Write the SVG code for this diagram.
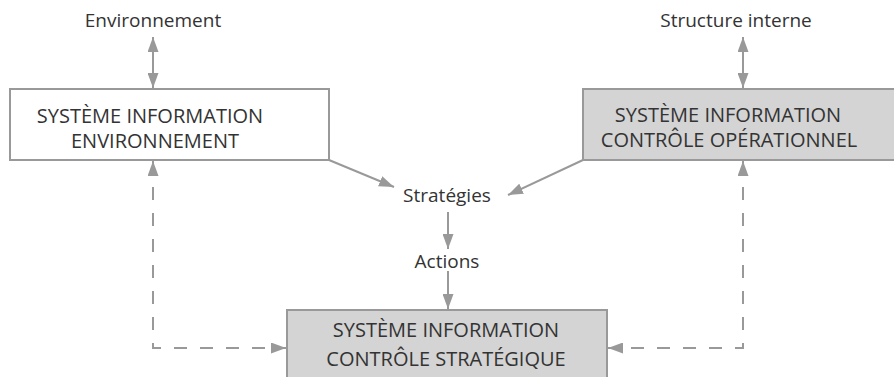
<svg xmlns="http://www.w3.org/2000/svg" width="894" height="377" viewBox="0 0 894 377">
<style>
text{font-family:"Open Sans","Liberation Sans",sans-serif;fill:#333;text-anchor:middle}
.lbl{font-size:19px}
.box{font-size:20px}
.w{fill:#fff;stroke:#999;stroke-width:2}
.g{fill:#d4d4d4;stroke:#999;stroke-width:2}
.c{fill:none;stroke:#999;stroke-width:2}
.d{stroke-dasharray:13 13}
</style>
<defs>
<marker id="ah" viewBox="0 0 15 11" markerWidth="15" markerHeight="11" refX="15" refY="5.5" orient="auto-start-reverse" markerUnits="userSpaceOnUse">
<path d="M0,0 L15,5.5 L0,11 z" fill="#999"/>
</marker>
</defs>
<rect width="894" height="377" fill="#fff"/>
<g id="connectors">
<line class="c" x1="153" y1="37" x2="153" y2="88" marker-start="url(#ah)" marker-end="url(#ah)"/>
<line class="c" x1="743" y1="37" x2="743" y2="88" marker-start="url(#ah)" marker-end="url(#ah)"/>
<line class="c" x1="329" y1="160" x2="394" y2="187" marker-end="url(#ah)"/>
<line class="c" x1="583" y1="160" x2="508" y2="195" marker-end="url(#ah)"/>
<line class="c" x1="448" y1="212" x2="448" y2="249" marker-end="url(#ah)"/>
<line class="c" x1="448" y1="271" x2="448" y2="309" marker-end="url(#ah)"/>
<path class="c d" d="M153,161 L153,348 L286,348" marker-start="url(#ah)" marker-end="url(#ah)"/>
<path class="c d" d="M743,161 L743,348 L608,348" marker-start="url(#ah)" marker-end="url(#ah)"/>
</g>
<g id="label-environnement"><text class="lbl" x="153" y="27">Environnement</text></g>
<g id="label-structure"><text class="lbl" x="736" y="27">Structure interne</text></g>
<g id="node-sie">
<rect class="w" x="10" y="89" width="319" height="71"/>
<text class="box" x="150" y="123">SYSTÈME INFORMATION</text>
<text class="box" x="155" y="148">ENVIRONNEMENT</text>
</g>
<g id="node-sico">
<rect class="g" x="583" y="89" width="320" height="71"/>
<text class="box" x="728" y="122">SYSTÈME INFORMATION</text>
<text class="box" x="729" y="147">CONTRÔLE OPÉRATIONNEL</text>
</g>
<g id="label-strategies"><text class="lbl" x="447" y="202">Stratégies</text></g>
<g id="label-actions"><text class="lbl" x="447" y="268">Actions</text></g>
<g id="node-sics">
<rect class="g" x="287" y="310" width="320" height="80"/>
<text class="box" x="446" y="337">SYSTÈME INFORMATION</text>
<text class="box" x="446" y="366">CONTRÔLE STRATÉGIQUE</text>
</g>
</svg>
